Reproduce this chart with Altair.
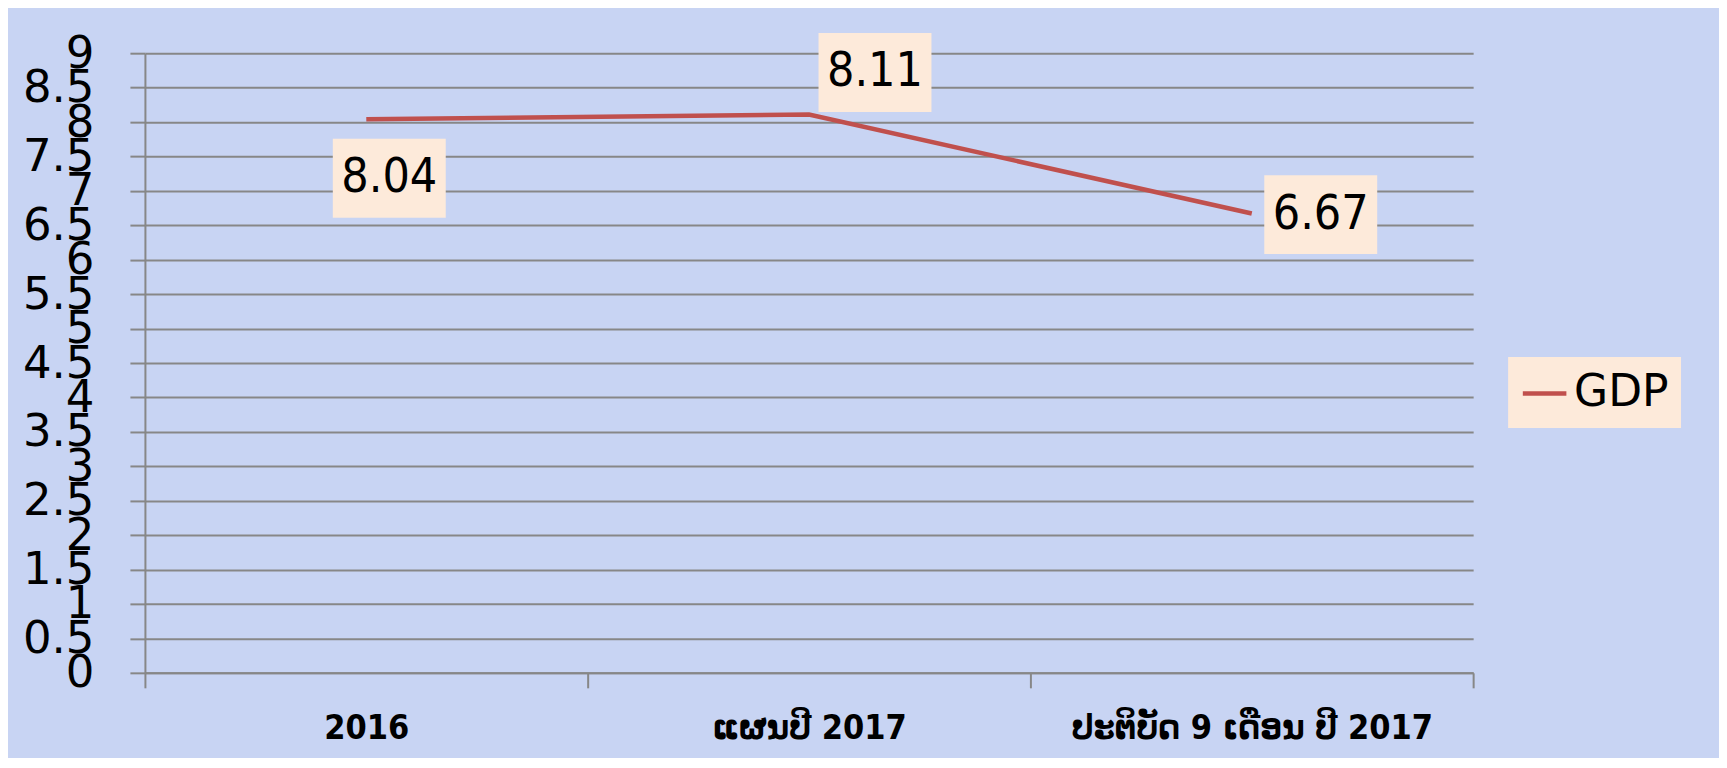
import json
import altair as alt
import pandas as pd

categories = ["2016", "ແຜນປີ 2017", "ປະຕິບັດ 9 ເດືອນ ປີ 2017"]
gdp_values = [8.04, 8.11, 6.67]
series_name = "GDP"
y_ticks = [i / 2 for i in range(0, 19)]
x_ticks = [0, 0.5, 1, 1.5, 2, 2.5, 3]

df = pd.DataFrame({"category": categories, "value": gdp_values, "series": [series_name] * len(categories)})

cats_js = json.dumps(categories, ensure_ascii=False)

GRID = "#878787"
LINE = "#C0504D"
BOX = "#FDEADA"
BG = "#C8D4F3"

W, H = 1329, 620

base = alt.Chart(df).transform_calculate(
    pos=f"indexof({cats_js}, datum.category) + 0.5",
    idx=f"indexof({cats_js}, datum.category)",
)

x_axis = alt.Axis(
    values=x_ticks,
    title=None,
    grid=False,
    domainColor=GRID,
    domainWidth=2,
    tickColor=GRID,
    tickWidth=2,
    tickSize=15,
    tickOpacity={"condition": {"test": "datum.value % 1 === 0", "value": 1}, "value": 0},
    labelExpr=f"datum.value % 1 === 0 ? '' : {cats_js}[floor(datum.value)]",
    labelFont="DejaVu Sans Condensed",
    labelFontWeight="bold",
    labelFontSize=34,
    labelColor="black",
    labelPadding=24,
    labelLimit=0,
    labelOverlap=False,
    labelFlush=False,
    labelBound=False,
)

y_axis = alt.Axis(
    values=y_ticks,
    format=".1~f",
    title=None,
    grid=True,
    gridColor=GRID,
    gridWidth=2,
    domainColor=GRID,
    domainWidth=2,
    tickColor=GRID,
    tickWidth=2,
    tickSize=15,
    labelFont="DejaVu Sans",
    labelFontSize=45,
    labelColor="black",
    labelPadding=36,
    labelAlign="right",
    labelBaseline="middle",
    labelLimit=0,
    labelOverlap=False,
    labelFlush=False,
    labelBound=False,
)

x_scale = alt.Scale(domain=[0, 3], nice=False, zero=False)
y_scale = alt.Scale(domain=[0, 9], nice=False, zero=True)


def xe():
    return alt.X("pos:Q", scale=x_scale, axis=x_axis)


def ye():
    return alt.Y("value:Q", scale=y_scale, axis=y_axis)


line = base.mark_line(strokeWidth=4.6).encode(
    x=xe(),
    y=ye(),
    color=alt.Color(
        "series:N",
        scale=alt.Scale(range=[LINE]),
        legend=alt.Legend(
            title=None,
            orient="none",
            legendX=1364,
            legendY=304,
            fillColor=BOX,
            padding=12,
            symbolType="stroke",
            symbolStrokeWidth=4.6,
            symbolSize=1900,
            labelFont="DejaVu Sans",
            labelFontSize=44,
            labelColor="black",
            labelOffset=5,
        ),
    ),
)

label_offsets = [(23, 59), (66, -42), (69, 1)]
layers = [line]
for i, (dx, dy) in enumerate(label_offsets):
    sub = base.transform_filter(f"datum.idx === {i}")
    box = sub.mark_rect(width=113, height=79, fill=BOX, xOffset=dx, yOffset=dy).encode(
        x=xe(), y=ye()
    )
    txt = sub.mark_text(
        dx=dx, dy=dy, align="center", baseline="middle",
        font="DejaVu Sans Condensed", fontSize=48, color="black",
    ).encode(x=xe(), y=ye(), text=alt.Text("value:Q", format=".2f"))
    layers += [box, txt]

chart = alt.layer(*layers).properties(
    width=W,
    height=H,
    background=BG,
    padding={"left": 137, "top": 45, "right": 246, "bottom": 85},
    autosize=alt.AutoSizeParams(type="none"),
).configure_view(stroke=None)

chart.save("out.html", embed_options={"renderer": "svg", "actions": False})
